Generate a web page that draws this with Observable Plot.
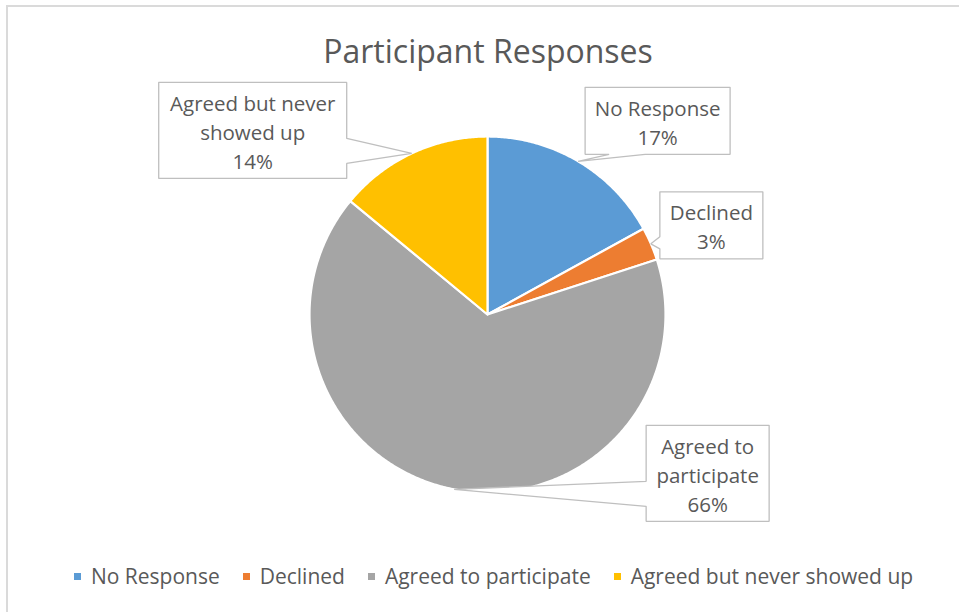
<!DOCTYPE html>
<html>
<head>
<meta charset="utf-8">
<script src="https://cdn.jsdelivr.net/npm/d3@7"></script>
<script src="https://cdn.jsdelivr.net/npm/@observablehq/plot@0.6"></script>
<style>
  html, body { margin: 0; padding: 0; background: #fff; }
  #wrap { position: relative; width: 959px; height: 612px; overflow: hidden; background: #fff; font-family: "Open Sans", sans-serif; color: #595959; }
  #frame { position: absolute; left: 6px; top: 5px; width: 1000px; height: 1000px; border-left: 2px solid #dadada; border-top: 2px solid #dadada; }
  #title { position: absolute; left: 0; width: 976px; top: 35px; text-align: center; font-size: 32px; line-height: 32px; color: #595959; }
  #chart { position: absolute; left: 0; top: 75px; }
  #legend { position: absolute; left: 0; width: 987px; top: 566px; display: flex; justify-content: center; font-size: 21px; line-height: 21px; }
  .item { display: flex; align-items: center; margin: 0 11.5px; }
  .sw { width: 7px; height: 7px; margin-right: 10px; }
</style>
</head>
<body>
<div id="wrap">
  <div id="frame"></div>
  <div id="title"></div>
  <div id="chart"></div>
  <div id="legend"></div>
</div>
<script>
// ---- data ----
const title = "Participant Responses";
const categories = ["No Response", "Declined", "Agreed to participate", "Agreed but never showed up"];
const labelLines = ["No Response", "Declined", "Agreed to\nparticipate", "Agreed but never\nshowed up"];
const shares = [17, 3, 66, 14];
const colors = ["#5B9BD5", "#ED7D31", "#A5A5A5", "#FFC000"];

// ---- layout (screen px) ----
const W = 959, H = 470;
const cx = 487, cy = 239;     // pie centre inside the svg
const R = 178;                // pie radius
// callout boxes relative to the pointer tip: left/top offset, size, pointer side, pointer base span along that side
const callouts = [
  {dx: 7,    dy: -74, w: 145, h: 67, side: "bottom", b0: 24, b1: 60},
  {dx: 9,    dy: -52, w: 103, h: 67, side: "left",   b0: 45, b1: 57},
  {dx: 192,  dy: -64, w: 123, h: 96, side: "left",   b0: 56, b1: 81},
  {dx: -253, dy: -71, w: 188, h: 96, side: "right",  b0: 56, b1: 81}
];

document.getElementById("title").textContent = title;

// ---- slices ----
const total = d3.sum(shares);
const slicePts = [];
const tips = [];
let acc = 0;
shares.forEach((v, i) => {
  const a0 = acc / total * 2 * Math.PI;
  const a1 = (acc + v) / total * 2 * Math.PI;
  acc += v;
  const cat = categories[i];
  slicePts.push({cat, x: 0, y: 0});
  const n = Math.max(2, Math.ceil((a1 - a0) / (Math.PI / 360)));
  for (let k = 0; k <= n; k++) {
    const a = a0 + (a1 - a0) * k / n;
    slicePts.push({cat, x: R * Math.sin(a), y: R * Math.cos(a)});
  }
  slicePts.push({cat, x: 0, y: 0});
  const am = (a0 + a1) / 2;
  tips.push({x: R * Math.sin(am), y: R * Math.cos(am)});
});

// ---- callout outlines (data units: y up, origin at pie centre) ----
const boxPts = [];
const labels = [];
callouts.forEach((c, i) => {
  const t = tips[i];
  const L = c.dx, T = c.dy, Rr = c.dx + c.w, B = c.dy + c.h;
  const p = [];
  p.push([L, T], [Rr, T]);
  if (c.side === "right") p.push([Rr, T + c.b0], [0, 0], [Rr, T + c.b1]);
  p.push([Rr, B]);
  if (c.side === "bottom") p.push([L + c.b1, B], [0, 0], [L + c.b0, B]);
  p.push([L, B]);
  if (c.side === "left") p.push([L, T + c.b1], [0, 0], [L, T + c.b0]);
  p.push([L, T]);
  p.forEach(([sx, sy]) => boxPts.push({k: i, x: t.x + sx, y: t.y - sy}));
  labels.push({
    x: t.x + L + c.w / 2,
    y: t.y - (T + c.h / 2),
    text: labelLines[i] + "\n" + shares[i] + "%"
  });
});

const plot = Plot.plot({
  width: W,
  height: H,
  margin: 0,
  x: {domain: [-cx, W - cx], range: [0, W], axis: null},
  y: {domain: [-(H - cy), cy], range: [H, 0], axis: null},
  color: {domain: categories, range: colors},
  style: {background: "transparent", overflow: "visible"},
  marks: [
    Plot.line(slicePts, {x: "x", y: "y", z: "cat", fill: "cat", stroke: "white", strokeWidth: 2.2, strokeLinejoin: "round", curve: "linear"}),
    Plot.line(boxPts, {x: "x", y: "y", z: "k", fill: "white", stroke: "#bfbfbf", strokeWidth: 1.3, strokeLinejoin: "miter", curve: "linear"}),
    Plot.text(labels, {x: "x", y: "y", text: "text", fill: "#595959", fontSize: 20.5, lineHeight: 1.42, lineAnchor: "middle", textAnchor: "middle", fontFamily: "Open Sans"})
  ]
});
document.getElementById("chart").appendChild(plot);

// ---- legend ----
const legend = document.getElementById("legend");
categories.forEach((c, i) => {
  const item = document.createElement("div");
  item.className = "item";
  const sw = document.createElement("span");
  sw.className = "sw";
  sw.style.background = colors[i];
  const tx = document.createElement("span");
  tx.textContent = c;
  item.appendChild(sw);
  item.appendChild(tx);
  legend.appendChild(item);
});
</script>
</body>
</html>
